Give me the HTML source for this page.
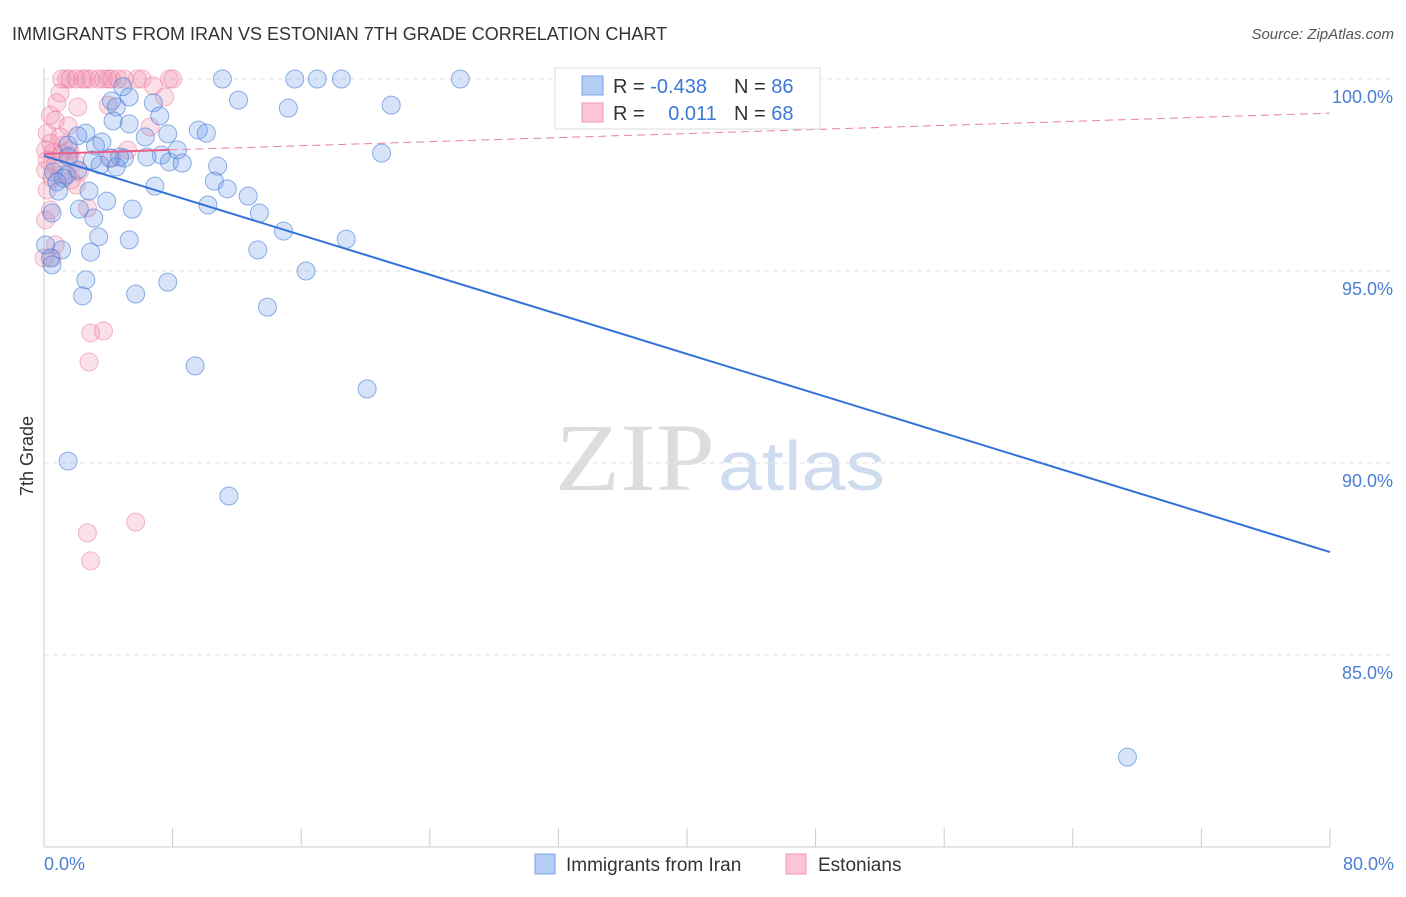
<!DOCTYPE html>
<html><head><meta charset="utf-8"><style>
body{margin:0;background:#fff;font-family:"Liberation Sans",sans-serif;}
svg text{font-family:"Liberation Sans",sans-serif;}
</style></head><body>
<svg id="chart" width="1406" height="892" xmlns="http://www.w3.org/2000/svg">
<text x="12" y="40" font-size="18" fill="#333">IMMIGRANTS FROM IRAN VS ESTONIAN 7TH GRADE CORRELATION CHART</text>
<text x="1394" y="39" font-size="15" fill="#555" text-anchor="end" font-style="italic">Source: ZipAtlas.com</text>
<text x="555" y="490" font-size="96" fill="#ddd" style="font-family:'Liberation Serif',serif" textLength="160" lengthAdjust="spacingAndGlyphs">ZIP</text>
<text x="718" y="490" font-size="70" fill="#cfdcf0" textLength="167" lengthAdjust="spacingAndGlyphs">atlas</text>
<text transform="translate(33,456) rotate(-90)" font-size="18" fill="#333" text-anchor="middle">7th Grade</text>
<g id="grid"></g><g id="pts"></g><g id="lines"></g>
<g>
<rect x="555" y="68" width="265" height="61" fill="#fff" stroke="#ddd"/>
<rect x="582" y="76" width="21" height="19" fill="#b5cdf5" stroke="#7aa3e5"/>
<rect x="582" y="103" width="21" height="19" fill="#fbc7d6" stroke="#f09ab4"/>
<text x="613" y="93" font-size="20" fill="#333">R = <tspan fill="#3b78d8">-0.438</tspan></text>
<text x="734" y="93" font-size="20" fill="#333">N = <tspan fill="#3b78d8">86</tspan></text>
<text x="613" y="120" font-size="20" fill="#333">R = <tspan fill="#3b78d8" dx="18">0.011</tspan></text>
<text x="734" y="120" font-size="20" fill="#333">N = <tspan fill="#3b78d8">68</tspan></text>
</g>
<g>
<rect x="535" y="854" width="20" height="20" fill="#b5cdf5" stroke="#7aa3e5"/>
<text x="566" y="871" font-size="19" fill="#333">Immigrants from Iran</text>
<rect x="786" y="854" width="20" height="20" fill="#fbc7d6" stroke="#f09ab4"/>
<text x="818" y="871" font-size="19" fill="#333">Estonians</text>
</g>
</svg>
<script>
const xTickLabels=["0.0%","80.0%"];
const yTicks=[100,95,90,85];
const blueX=[11.1,15.6,17.0,18.5,25.9,4.9,12.1,4.2,4.5,5.3,6.8,15.2,21.6,7.2,4.3,5.3,2.6,2.1,9.6,10.1,7.7,6.3,3.6,1.5,3.2,21.0,7.3,8.3,4.7,5.0,1.5,3.0,3.5,7.8,8.6,10.8,4.5,2.1,0.6,1.4,1.2,0.8,10.6,6.9,11.4,2.8,0.9,12.7,3.9,10.2,5.5,2.2,0.5,13.4,3.1,14.9,3.4,5.3,18.8,0.1,1.1,2.9,13.3,0.4,16.3,2.6,7.7,2.4,5.7,13.9,9.4,20.1,1.5,11.5,67.4,4.1,6.4,0.5];
const blueY=[100,100,100,100,100,99.8,99.45,99.43,99.27,99.53,99.38,99.24,99.32,99.04,98.91,98.83,98.59,98.52,98.67,98.59,98.57,98.49,98.36,98.28,98.26,98.07,98.02,98.15,97.97,97.94,97.97,97.89,97.76,97.84,97.81,97.73,97.71,97.63,97.58,97.5,97.42,97.32,97.34,97.21,97.14,97.08,97.08,96.95,96.82,96.72,96.61,96.61,96.51,96.51,96.38,96.04,95.89,95.81,95.83,95.68,95.55,95.49,95.55,95.34,95.0,94.77,94.71,94.35,94.4,94.06,92.53,91.93,90.05,89.14,82.34,97.94,97.97,95.16];
const pinkX=[1.1,1.4,1.6,2.0,2.4,2.6,2.9,3.4,3.7,4.0,4.2,4.6,5.0,5.8,6.1,7.8,8.0,1.0,0.8,2.1,0.4,0.7,1.5,0.2,1.0,0.4,0.1,0.6,1.1,1.6,0.2,0.7,1.9,0.1,2.2,1.0,0.5,1.7,2.0,0.2,0.4,2.7,0.1,0.7,0.5,0,4.0,6.6,5.2,4.2,7.5,6.8,2.9,3.7,2.8,5.7,2.7,2.9,1.6,1.2];
const pinkY=[100,100,100,100,100,100,100,100,100,100,100,100,100,100,100,100,100,99.64,99.38,99.27,99.06,98.93,98.78,98.59,98.49,98.33,98.15,98.1,98.05,98.0,97.89,97.76,97.84,97.63,97.58,97.5,97.42,97.37,97.24,97.11,96.59,96.64,96.33,95.68,95.34,95.34,99.32,98.75,98.15,97.94,99.53,99.82,93.39,93.44,92.63,88.46,88.18,87.45,98.15,98.28];
const blueTrend=[98.0,87.68];
const pinkTrend=[98.05,99.11];
const NS="http://www.w3.org/2000/svg";
const X=v=>44+v*(1286/80), Y=v=>79+(100-v)*38.4;
function mk(t,a,p){const e=document.createElementNS(NS,t);for(const k in a)e.setAttribute(k,a[k]);p.appendChild(e);return e;}
const grid=document.getElementById('grid');
yTicks.forEach(t=>{
 const l=mk('line',{x1:44,x2:1394,y1:Y(t),y2:Y(t),stroke:'#e2e2e2','stroke-dasharray':'5,4'},grid);
 
 
 const tx=mk('text',{x:1393,y:Y(t)+24,'font-size':18,fill:'#4a7fd4','text-anchor':'end'},grid);tx.textContent=t.toFixed(1)+'%';
 
 
});
const ax=mk('line',{x1:44,x2:1330,y1:847,y2:847,stroke:'#ccc'},grid);


const ay=mk('line',{x1:44,x2:44,y1:68,y2:847,stroke:'#ccc'},grid);


for(let i=0;i<=10;i++){const t=mk('line',{x1:X(i*8),x2:X(i*8),y1:828,y2:847,stroke:'#ccc'},grid);
 
 }
[[0,'start',44],[80,'end',1394]].forEach((d,i)=>{const t=mk('text',{x:d[2],y:870,'font-size':18,fill:'#4a7fd4','text-anchor':d[1]},grid);t.textContent=xTickLabels[i];
 
 });
const pts=document.getElementById('pts');
pinkX.forEach((v,i)=>{const c=mk('circle',{cx:X(v),cy:Y(pinkY[i]),r:9,fill:'rgba(240,130,165,0.25)',stroke:'rgba(235,120,155,0.5)'},pts);
 
 });
blueX.forEach((v,i)=>{const c=mk('circle',{cx:X(v),cy:Y(blueY[i]),r:9,fill:'rgba(110,155,230,0.28)',stroke:'rgba(70,125,215,0.6)'},pts);
 
 });
const lg=document.getElementById('lines');
const bl=mk('line',{x1:X(0),y1:Y(blueTrend[0]),x2:X(80),y2:Y(blueTrend[1]),stroke:'#3272d9','stroke-width':2},lg);


const pm=v=>pinkTrend[0]+(pinkTrend[1]-pinkTrend[0])*v/80;
const ps=mk('line',{x1:X(0),y1:Y(pm(0)),x2:X(7.8),y2:Y(pm(7.8)),stroke:'#e8608a','stroke-width':2},lg);


const pd=mk('line',{x1:X(7.8),y1:Y(pm(7.8)),x2:X(80),y2:Y(pm(80)),stroke:'#e8809f','stroke-width':1,'stroke-dasharray':'8,5'},lg);


</script>
</body></html>
